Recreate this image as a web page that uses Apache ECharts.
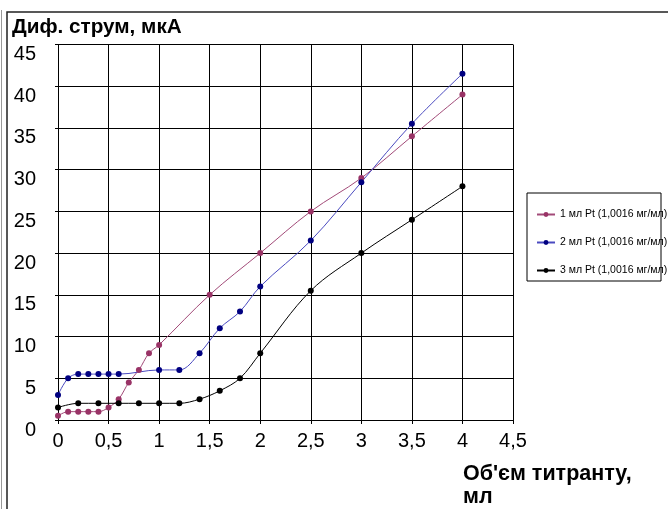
<!DOCTYPE html>
<html>
<head>
<meta charset="utf-8">
<script src="https://cdn.jsdelivr.net/npm/echarts@6/dist/echarts.min.js"></script>
<style>
html,body{margin:0;padding:0;background:#fff;}
#c{width:668px;height:509px;}
</style>
</head>
<body>
<div id="c"></div>
<script>
// Data
const seriesNames = ['1 мл Pt (1,0016 мг/мл)', '2 мл Pt (1,0016 мг/мл)', '3 мл Pt (1,0016 мг/мл)'];
const x1 = [0, 0.1, 0.2, 0.3, 0.4, 0.5, 0.6, 0.7, 0.8, 0.9, 1.0, 1.5, 2.0, 2.5, 3.0, 3.5, 4.0];
const y1 = [0.5, 1, 1, 1, 1, 1.5, 2.5, 4.5, 6, 8, 9, 15, 20, 25, 29, 34, 39];
const x2 = [0, 0.1, 0.2, 0.3, 0.4, 0.5, 0.6, 1.0, 1.2, 1.4, 1.6, 1.8, 2.0, 2.5, 3.0, 3.5, 4.0];
const y2 = [3, 5, 5.5, 5.5, 5.5, 5.5, 5.5, 6, 6, 8, 11, 13, 16, 21.5, 28.5, 35.5, 41.5];
const x3 = [0, 0.2, 0.4, 0.6, 0.8, 1.0, 1.2, 1.4, 1.6, 1.8, 2.0, 2.5, 3.0, 3.5, 4.0];
const y3 = [1.5, 2, 2, 2, 2, 2, 2, 2.5, 3.5, 5, 8, 15.5, 20, 24, 28];
const xTicks = { min: 0, max: 4.5, step: 0.5 };
const yTicks = { min: 0, max: 45, step: 5 };
const yTitle = 'Диф. струм, мкА';
const xTitle = "Об'єм титранту,\nмл";

const colors = ['#993366', '#000080', '#000000'];
const lineColors = ['#a24a78', '#4a4ac0', '#000000'];
const FONT = "'Liberation Sans', Arial, sans-serif";

function zip(xs, ys) { return xs.map((x, i) => [x, ys[i]]); }
const datasets = [zip(x1, y1), zip(x2, y2), zip(x3, y3)];

const chart = echarts.init(document.getElementById('c'), null, { renderer: 'canvas' });
chart.setOption({
  animation: false,
  backgroundColor: '#fff',
  textStyle: { fontFamily: FONT },
  grid: { left: 58, top: 44.5, right: 155, bottom: 89, containLabel: false },
  xAxis: {
    type: 'value', min: xTicks.min, max: xTicks.max, interval: xTicks.step,
    axisLine: { lineStyle: { color: '#000', width: 1 } },
    axisTick: { show: true, length: 4, lineStyle: { color: '#000' } },
    axisLabel: { color: '#000', fontSize: 20, fontFamily: FONT, margin: 11,
      formatter: v => String(v).replace('.', ',') },
    splitLine: { show: true, lineStyle: { color: '#000', width: 1 } }
  },
  yAxis: {
    type: 'value', min: yTicks.min, max: yTicks.max, interval: yTicks.step,
    axisLine: { show: true, lineStyle: { color: '#000', width: 1 } },
    axisTick: { show: true, length: 3, lineStyle: { color: '#000' } },
    axisLabel: { color: '#000', fontSize: 20, fontFamily: FONT, margin: 22, verticalAlign: 'top' },
    splitLine: { show: true, lineStyle: { color: '#000', width: 1 } }
  },
  legend: {
    orient: 'vertical', left: 531, top: 204, itemGap: 17,
    itemWidth: 18, itemHeight: 6,
    textStyle: { fontSize: 10.5, color: '#000', fontFamily: FONT },
    data: seriesNames
  },
  series: datasets.map((d, i) => ({
    name: seriesNames[i], type: 'line', data: d, smooth: 0.35,
    symbol: 'circle', symbolSize: 6,
    itemStyle: { color: colors[i] },
    lineStyle: { color: lineColors[i], width: 1 }
  })),
  graphic: [
    { type: 'text', left: 12, top: 17, style: { text: yTitle, font: 'bold 20.7px ' + FONT, fill: '#000' } },
    { type: 'text', left: 463, top: 463, style: { text: xTitle, font: 'bold 21.5px ' + FONT, fill: '#000', lineHeight: 23 } },
    { type: 'rect', shape: { x: 527, y: 193, width: 134, height: 88 }, style: { fill: 'none', stroke: '#000', lineWidth: 1 }, z: 100 },
    { type: 'polyline', shape: { points: [[7, 520], [7, 12], [680, 12]] }, style: { fill: 'none', stroke: '#222', lineWidth: 1.5 }, z: 100 },
    { type: 'line', shape: { x1: 1.5, y1: 10, x2: 1.5, y2: 520 }, style: { stroke: '#999', lineWidth: 1 }, z: 100 }
  ]
});
</script>
</body>
</html>
